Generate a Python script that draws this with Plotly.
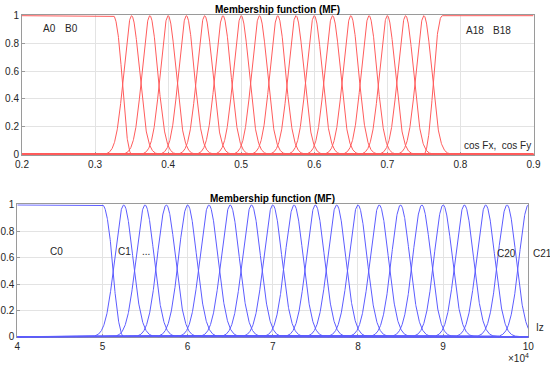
import numpy as np
import plotly.graph_objects as go

W, H = 550, 369

# ---- data (membership function parameters) ----
# top panel: cos Fx / cos Fy, A0..A18
top_x_range = [0.2, 0.9]
top_z = [0.325, 0.35]          # A0 (Z-shaped)
top_centers = [0.350, 0.375, 0.400, 0.425, 0.450, 0.475, 0.500, 0.525, 0.550,
               0.575, 0.600, 0.625, 0.650, 0.675, 0.700, 0.725, 0.750]
top_sigma = 0.0106
top_s = [0.75, 0.775]          # A18 (S-shaped)
top_xticks = [0.2, 0.3, 0.4, 0.5, 0.6, 0.7, 0.8, 0.9]

# bottom panel: Iz (x1e4), C0..C21
bot_x_range = [4, 10]
bot_z = [5.0, 5.25]            # C0 (Z-shaped)
bot_centers = [5.25, 5.50, 5.75, 6.00, 6.25, 6.50, 6.75, 7.00, 7.25, 7.50,
               7.75, 8.00, 8.25, 8.50, 8.75, 9.00, 9.25, 9.50, 9.75, 10.00]
bot_sigma = 0.106
bot_xticks = [4, 5, 6, 7, 8, 9, 10]

yticks = [0, 0.2, 0.4, 0.6, 0.8, 1]
y_range = [-0.005, 1.005]


def zmf(x, a, b):
    y = np.ones_like(x)
    m = (a + b) / 2
    i1 = (x > a) & (x <= m)
    y[i1] = 1 - 2 * ((x[i1] - a) / (b - a)) ** 2
    i2 = (x > m) & (x < b)
    y[i2] = 2 * ((x[i2] - b) / (b - a)) ** 2
    y[x >= b] = 0
    return y


def smf(x, a, b):
    return 1 - zmf(x, a, b)


def gauss(x, c, s):
    return np.exp(-((x - c) ** 2) / (2 * s * s))


fig = go.Figure()
RED = "#ff5c5c"
BLUE = "#5c5cff"

xt = np.linspace(top_x_range[0], top_x_range[1], 2801)
curves = [zmf(xt, *top_z)] + [gauss(xt, c, top_sigma) for c in top_centers] + [smf(xt, *top_s)]
for yv in curves:
    fig.add_trace(go.Scatter(x=xt, y=yv, mode="lines", line=dict(color=RED, width=1),
                             xaxis="x", yaxis="y", showlegend=False, hoverinfo="skip"))

xb = np.linspace(bot_x_range[0], bot_x_range[1], 2801)
curves = [zmf(xb, *bot_z)] + [gauss(xb, c, bot_sigma) for c in bot_centers]
for yv in curves:
    fig.add_trace(go.Scatter(x=xb, y=yv, mode="lines", line=dict(color=BLUE, width=1),
                             xaxis="x2", yaxis="y2", showlegend=False, hoverinfo="skip"))

FONT = "Liberation Sans, Arial, sans-serif"
TXT = "#262626"


def px(x):
    return x / W


def py(y):
    return 1 - y / H


ax_common = dict(showgrid=True, gridcolor="#e3e3e3", gridwidth=1, zeroline=False,
                 showline=True, linecolor="#9a9a9a", linewidth=1, mirror=True,
                 ticks="inside", ticklen=3, tickcolor="#9a9a9a", automargin=False,
                 layer="below traces",
                 tickfont=dict(family=FONT, size=10, color=TXT))

fig.update_layout(
    template="none",
    width=W, height=H,
    margin=dict(l=0, r=0, t=0, b=0, pad=0),
    paper_bgcolor="white", plot_bgcolor="white",
    xaxis=dict(domain=[px(22), px(533.5)], range=top_x_range, tickvals=top_xticks,
               ticktext=[f"{v:g}" for v in top_xticks], anchor="y", **ax_common),
    yaxis=dict(domain=[py(155), py(15)], range=y_range, tickvals=yticks,
               ticktext=[f"{v:g}" for v in yticks], anchor="x", **ax_common),
    xaxis2=dict(domain=[px(17.3), px(528.3)], range=bot_x_range, tickvals=bot_xticks,
                ticktext=[str(v) for v in bot_xticks], anchor="y2", **ax_common),
    yaxis2=dict(domain=[py(337.4), py(204.3)], range=y_range, tickvals=yticks,
                ticktext=[f"{v:g}" for v in yticks], anchor="x2", **ax_common),
)

ann = []


def add(text, x, y, size=10, bold=False, xa="center"):
    ann.append(dict(text=f"<b>{text}</b>" if bold else text, x=px(x), y=py(y),
                    xref="paper", yref="paper", showarrow=False, xanchor=xa,
                    yanchor="middle", font=dict(family=FONT, size=size, color="black" if bold else TXT)))


add("Membership function (MF)", 277.7, 9, size=10, bold=True)
add("Membership function (MF)", 272.8, 198.5, size=10, bold=True)
add("A0", 49.5, 28.5)
add("B0", 71.5, 28.5)
add("A18", 474.5, 30)
add("B18", 501.5, 30)
add("cos Fx,  cos Fy", 497.5, 145)
add("C0", 56.7, 251)
add("C1", 124, 251)
add("...", 145.7, 251)
add("C20", 506.7, 253.5)
add("C21", 530.5, 253.5, xa="left")
add("Iz", 534, 327, xa="left")
add("\u00d710<sup>4</sup>", 518, 358, size=10)
fig.update_layout(annotations=ann)

fig.write_html("out.html", config={"displayModeBar": False},
               post_script="document.body.style.margin='0';document.body.style.overflow='hidden';")
